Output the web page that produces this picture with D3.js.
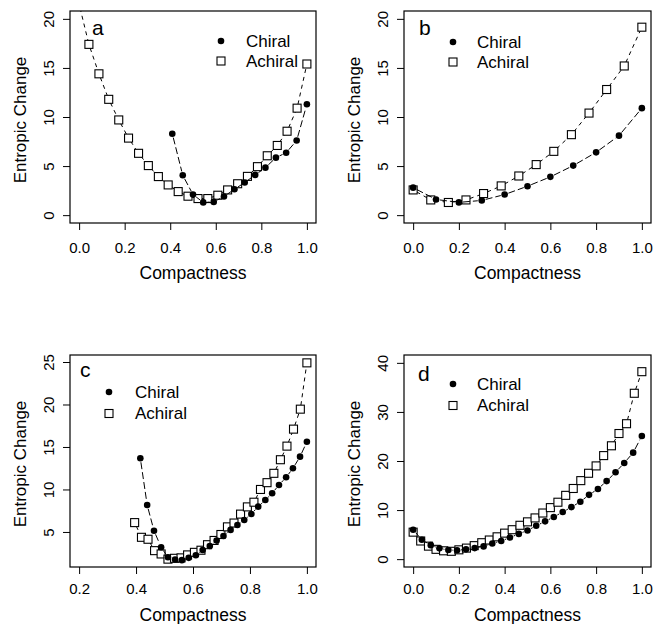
<!DOCTYPE html>
<html>
<head>
<meta charset="utf-8">
<script src="https://cdn.jsdelivr.net/npm/d3@7"></script>
<style>
  body { margin: 0; background: #fff; }
  svg { display: block; }
  text { font-family: "Liberation Sans", Arial, Helvetica, sans-serif; fill: #000; }
</style>
</head>
<body>
<svg id="chart" width="655" height="624"></svg>
<script>
// ---- Panel a ----
const aChiralX  = [0.409, 0.455, 0.5, 0.545, 0.591, 0.636, 0.682, 0.727, 0.773, 0.818, 0.864, 0.909, 0.955, 1.0];
const aChiralY  = [8.3, 4.06, 2.1, 1.3, 1.35, 1.9, 2.64, 3.32, 4.1, 4.84, 5.86, 6.36, 7.6, 11.3];
const aAchiralX = [0, 0.043, 0.087, 0.130, 0.174, 0.217, 0.261, 0.304, 0.348, 0.391, 0.435, 0.478, 0.522,
                   0.565, 0.609, 0.652, 0.696, 0.739, 0.783, 0.826, 0.870, 0.913, 0.957, 1.0];
const aAchiralY = [21.5, 17.4, 14.4, 11.8, 9.7, 7.85, 6.3, 5.05, 3.93, 3.08, 2.4, 1.93, 1.69,
                   1.69, 2.03, 2.57, 3.2, 3.95, 4.94, 6.05, 7.1, 8.55, 10.9, 15.4];

// ---- Panel b ----
const bChiralX  = [0, 0.1, 0.2, 0.3, 0.4, 0.5, 0.6, 0.7, 0.8, 0.9, 1.0];
const bChiralY  = [2.8, 1.6, 1.3, 1.5, 2.1, 2.95, 3.9, 5.05, 6.4, 8.1, 10.9];
const bAchiralX = [0, 0.077, 0.154, 0.231, 0.308, 0.385, 0.462, 0.538, 0.615, 0.692, 0.769, 0.846, 0.923, 1.0];
const bAchiralY = [2.57, 1.55, 1.29, 1.55, 2.2, 2.98, 3.99, 5.15, 6.5, 8.2, 10.4, 12.8, 15.2, 19.15];

// ---- Panel c ----
const cChiralX  = [0.415, 0.439, 0.463, 0.488, 0.512, 0.537, 0.561, 0.585, 0.610, 0.634, 0.659, 0.683, 0.707,
                   0.732, 0.756, 0.780, 0.805, 0.829, 0.854, 0.878, 0.902, 0.927, 0.951, 0.976, 1.0];
const cChiralY  = [13.67, 8.18, 5.15, 3.2, 2.02, 1.75, 1.68, 1.95, 2.25, 2.88, 3.35, 3.98, 4.53,
                   5.24, 5.82, 6.41, 7.12, 7.98, 8.76, 9.55, 10.53, 11.43, 12.49, 13.86, 15.62];
const cAchiralX = [0.395, 0.419, 0.442, 0.465, 0.488, 0.512, 0.535, 0.558, 0.581, 0.605, 0.628, 0.651, 0.674,
                   0.698, 0.721, 0.744, 0.767, 0.791, 0.814, 0.837, 0.860, 0.884, 0.907, 0.930, 0.953, 0.977, 1.0];
const cAchiralY = [6.1, 4.37, 4.14, 2.8, 2.41, 1.8, 1.9, 1.95, 2.3, 2.6, 2.85, 3.5, 4.0,
                   4.7, 5.6, 6.05, 7.1, 7.95, 8.5, 10.0, 10.8, 11.9, 13.5, 15.1, 17.1, 19.45, 24.9];

// ---- Panel d ----
const dChiralX  = [0, 0.038, 0.077, 0.115, 0.154, 0.192, 0.231, 0.269, 0.308, 0.346, 0.385, 0.423, 0.462, 0.5,
                   0.538, 0.577, 0.615, 0.654, 0.692, 0.731, 0.769, 0.808, 0.846, 0.885, 0.923, 0.962, 1.0];
const dChiralY  = [6.0, 3.95, 2.85, 2.2, 1.85, 1.8, 2.0, 2.25, 2.6, 3.2, 3.7, 4.4, 5.15, 5.85,
                   6.8, 7.7, 8.6, 9.6, 10.6, 11.7, 13.1, 14.3, 15.9, 17.7, 19.6, 21.7, 25.1];
const dAchiralX = [0, 0.033, 0.067, 0.1, 0.133, 0.167, 0.2, 0.233, 0.267, 0.3, 0.333, 0.367, 0.4, 0.433, 0.467, 0.5,
                   0.533, 0.567, 0.6, 0.633, 0.667, 0.7, 0.733, 0.767, 0.8, 0.833, 0.867, 0.9, 0.933, 0.967, 1.0];
const dAchiralY = [5.5, 3.7, 2.65, 2.0, 1.7, 1.6, 1.9, 2.25, 2.75, 3.35, 3.9, 4.55, 5.3, 6.0, 6.9, 7.6,
                   8.4, 9.4, 10.5, 11.6, 13.0, 14.4, 16.0, 17.5, 19.0, 21.1, 23.1, 25.6, 27.6, 33.8, 38.2];

// ---- Axis limits and ticks ----
const xLimFull  = [0, 1];
const xLimC     = [0.2, 1];
const yLimAB    = [0, 20];
const yLimC     = [1.8, 24.9];
const yLimD     = [0, 40];
const xTicksFull = [0, 0.2, 0.4, 0.6, 0.8, 1.0];
const xTicksC    = [0.2, 0.4, 0.6, 0.8, 1.0];
const yTicksAB   = [0, 5, 10, 15, 20];
const yTicksC    = [5, 10, 15, 20, 25];
const yTicksD    = [0, 10, 20, 30, 40];
const seriesNames = ["Chiral", "Achiral"];
const xTitle = "Compactness";
const yTitle = "Entropic Change";

// Plot-region geometry for the 2x2 grid
const panels = [
  { letter: "a", box: {l: 70,  r: 316, t: 11,  b: 223}, xlim: xLimFull, ylim: yLimAB, xt: xTicksFull, yt: yTicksAB,
    chiral: [aChiralX, aChiralY], achiral: [aAchiralX, aAchiralY],
    legend: {x: 221, y: 41, tx: 246, gap: 20}, lab: {x: 92, y: 35}, tickDy: 24.5, titleDy: 50 },
  { letter: "b", box: {l: 404, r: 651, t: 11,  b: 223}, xlim: xLimFull, ylim: yLimAB, xt: xTicksFull, yt: yTicksAB,
    chiral: [bChiralX, bChiralY], achiral: [bAchiralX, bAchiralY],
    legend: {x: 453, y: 42, tx: 477, gap: 20}, lab: {x: 419, y: 35}, tickDy: 24.5, titleDy: 50 },
  { letter: "c", box: {l: 70,  r: 316, t: 355, b: 567}, xlim: xLimC, ylim: yLimC, xt: xTicksC, yt: yTicksC,
    chiral: [cChiralX, cChiralY], achiral: [cAchiralX, cAchiralY],
    legend: {x: 109, y: 392, tx: 135, gap: 21.5}, lab: {x: 80, y: 377}, tickDy: 21, titleDy: 48 },
  { letter: "d", box: {l: 404, r: 651, t: 355, b: 567}, xlim: xLimFull, ylim: yLimD, xt: xTicksFull, yt: yTicksD,
    chiral: [dChiralX, dChiralY], achiral: [dAchiralX, dAchiralY],
    legend: {x: 453, y: 384, tx: 477, gap: 21.5}, lab: {x: 418, y: 381}, tickDy: 21, titleDy: 48 }
];

const svg = d3.select("#chart");
const extend = ([lo, hi]) => { const e = (hi - lo) * 0.04; return [lo - e, hi + e]; };
const fmt = d3.format(".1f");
const SQ = 8, R = 3.3, GAP = 4;

// Line style per series: achiral short dashes, chiral long dashes
const dashes = { chiral: "7,3", achiral: "4,4" };

function drawSeries(g, xs, ys, x, y, kind) {
  const pts = xs.map((v, i) => [x(v), y(ys[i])]);
  // connecting segments, stopping short of each point
  for (let i = 0; i < pts.length - 1; i++) {
    const [x1, y1] = pts[i], [x2, y2] = pts[i + 1];
    const dx = x2 - x1, dy = y2 - y1, len = Math.hypot(dx, dy);
    if (len <= 2 * GAP) continue;
    const ux = dx / len, uy = dy / len;
    g.append("line")
      .attr("x1", x1 + ux * GAP).attr("y1", y1 + uy * GAP)
      .attr("x2", x2 - ux * GAP).attr("y2", y2 - uy * GAP)
      .attr("stroke", "#000").attr("stroke-width", 1)
      .attr("stroke-dasharray", dashes[kind]);
  }
  drawMarkers(g, pts, kind);
}

function drawMarkers(g, pts, kind) {
  if (kind === "chiral") {
    g.selectAll(null).data(pts).join("circle")
      .attr("cx", d => d[0]).attr("cy", d => d[1]).attr("r", R).attr("fill", "#000");
  } else {
    g.selectAll(null).data(pts).join("rect")
      .attr("x", d => d[0] - SQ / 2).attr("y", d => d[1] - SQ / 2)
      .attr("width", SQ).attr("height", SQ)
      .attr("fill", "#fff").attr("stroke", "#000").attr("stroke-width", 1.1);
  }
}

panels.forEach((p, idx) => {
  const { l, r, t, b } = p.box;
  const x = d3.scaleLinear().domain(extend(p.xlim)).range([l, r]);
  const y = d3.scaleLinear().domain(extend(p.ylim)).range([b, t]);

  const clipId = "clip" + idx;
  svg.append("clipPath").attr("id", clipId)
    .append("rect").attr("x", l).attr("y", t).attr("width", r - l).attr("height", b - t);

  // x axis
  const gx = svg.append("g").attr("transform", `translate(0,${b})`)
    .call(d3.axisBottom(x).tickValues(p.xt).tickFormat(fmt).tickSize(7).tickSizeOuter(0));
  gx.select(".domain").remove();
  gx.selectAll(".tick line").attr("stroke", "#000");
  gx.selectAll(".tick text").attr("y", 0).attr("dy", null)
    .attr("transform", `translate(0,${p.tickDy})`)
    .attr("dominant-baseline", "central")
    .attr("font-size", 15).attr("font-family", null);

  // y axis with labels parallel to the axis
  const gy = svg.append("g").attr("transform", `translate(${l},0)`)
    .call(d3.axisLeft(y).tickValues(p.yt).tickFormat(d3.format("d")).tickSize(7).tickSizeOuter(0));
  gy.select(".domain").remove();
  gy.selectAll(".tick line").attr("stroke", "#000");
  gy.selectAll(".tick text").attr("x", 0).attr("dy", "0.35em")
    .attr("text-anchor", "middle")
    .attr("transform", "translate(-21.5,0) rotate(-90)")
    .attr("font-size", 15).attr("font-family", null);

  // data
  const gd = svg.append("g").attr("clip-path", `url(#${clipId})`);
  drawSeries(gd, p.achiral[0], p.achiral[1], x, y, "achiral");
  drawSeries(gd, p.chiral[0], p.chiral[1], x, y, "chiral");

  // frame
  svg.append("rect").attr("x", l).attr("y", t).attr("width", r - l).attr("height", b - t)
    .attr("fill", "none").attr("stroke", "#000").attr("stroke-width", 1.2);

  // titles
  svg.append("text").attr("x", (l + r) / 2).attr("y", b + p.titleDy)
    .attr("text-anchor", "middle").attr("dominant-baseline", "central")
    .attr("font-size", 17.5).text(xTitle);
  svg.append("text")
    .attr("transform", `translate(${l - 50},${(t + b) / 2 + 3}) rotate(-90)`)
    .attr("text-anchor", "middle").attr("dominant-baseline", "central")
    .attr("font-size", 17).text(yTitle);

  // panel letter
  svg.append("text").attr("x", p.lab.x).attr("y", p.lab.y)
    .attr("font-size", 21).text(p.letter);

  // legend
  const lg = svg.append("g");
  drawMarkers(lg, [[p.legend.x, p.legend.y]], "chiral");
  drawMarkers(lg, [[p.legend.x, p.legend.y + p.legend.gap]], "achiral");
  seriesNames.forEach((name, i) => {
    lg.append("text").attr("x", p.legend.tx).attr("y", p.legend.y + i * p.legend.gap)
      .attr("dominant-baseline", "central").attr("font-size", 17).text(name);
  });
});
</script>
</body>
</html>
